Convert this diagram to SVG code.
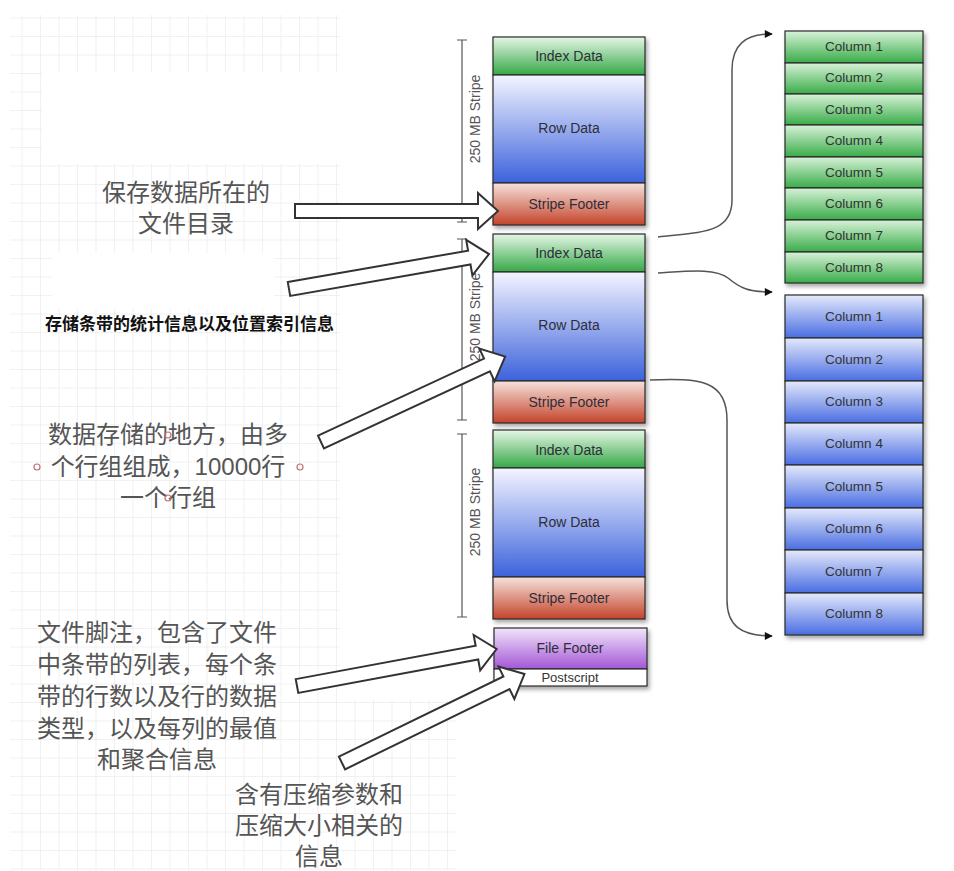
<svg xmlns="http://www.w3.org/2000/svg" width="954" height="871" viewBox="0 0 954 871">
<defs>
<pattern id="grid" width="18.5" height="18.5" patternUnits="userSpaceOnUse" x="4" y="0">
<path d="M18.5 0V18.5M0 18.5H18.5" fill="none" stroke="#e4e4e4" stroke-width="1"/>
</pattern>
<linearGradient id="gGreen" x1="0" y1="0" x2="0" y2="1"><stop offset="0" stop-color="#e6f6e6"/><stop offset="1" stop-color="#34a846"/></linearGradient>
<linearGradient id="gBlue" x1="0" y1="0" x2="0" y2="1"><stop offset="0" stop-color="#f4f5ff"/><stop offset="1" stop-color="#3c62dc"/></linearGradient>
<linearGradient id="gRed" x1="0" y1="0" x2="0" y2="1"><stop offset="0" stop-color="#f6e2dc"/><stop offset="1" stop-color="#c4432a"/></linearGradient>
<linearGradient id="gPurple" x1="0" y1="0" x2="0" y2="1"><stop offset="0" stop-color="#f1e4fa"/><stop offset="1" stop-color="#a356d6"/></linearGradient>
<linearGradient id="cGreen" x1="0" y1="0" x2="0" y2="1"><stop offset="0" stop-color="#d8f2d8"/><stop offset="1" stop-color="#38ac48"/></linearGradient>
<linearGradient id="cBlue" x1="0" y1="0" x2="0" y2="1"><stop offset="0" stop-color="#e4e9fb"/><stop offset="1" stop-color="#4a6ee2"/></linearGradient>
<filter id="sh" x="-10%" y="-10%" width="130%" height="130%"><feDropShadow dx="2" dy="3" stdDeviation="2" flood-color="#000" flood-opacity="0.35"/></filter>
<marker id="ah" viewBox="0 0 10 10" refX="9" refY="5" markerWidth="10" markerHeight="8" markerUnits="userSpaceOnUse" orient="auto"><path d="M0 0L10 5L0 10Z" fill="#111"/></marker>
<path id="blk" d="M0 -7H183V-18L203 0L183 18V7H0Z"/>
</defs>
<style>
.lbl{font-family:"Liberation Sans",Arial,sans-serif;font-size:14px;fill:#2e2e3a;text-anchor:middle}
.col{font-family:"Liberation Sans",Arial,sans-serif;font-size:13.5px;fill:#333;text-anchor:middle}
.ps{font-family:"Liberation Sans",Arial,sans-serif;font-size:13px;fill:#333;text-anchor:middle}
.dim{font-family:"Liberation Sans",Arial,sans-serif;font-size:14px;fill:#555;text-anchor:middle}
.bx{stroke:#2a2a2a;stroke-width:1.2}
.cn{font-family:"Liberation Sans","Noto Sans CJK SC",sans-serif;font-size:24px;fill:#555;text-anchor:middle}
.cnb{font-family:"Liberation Sans","Noto Sans CJK SC",sans-serif;font-size:17px;font-weight:bold;fill:#111}
.barrow{fill:#fff;stroke:#333;stroke-width:2;stroke-linejoin:miter}
.conn{fill:none;stroke:#555;stroke-width:1.5}
.dl{stroke:#555;stroke-width:1.2;fill:none}
.mk{fill:none;stroke:#c0707a;stroke-width:1.2}
</style>
<rect width="954" height="871" fill="#fff"/>
<g id="background">
<rect x="10" y="15" width="330" height="855" fill="url(#grid)"/>
<rect x="340" y="700" width="116" height="170" fill="url(#grid)"/>
<rect x="42" y="72" width="300" height="92" fill="#fff"/>
<rect x="52" y="253" width="222" height="56" fill="#fff"/>
</g>
<g id="dimensions">
<path class="dl" d="M462 40V222M457 40H467M457 222H467"/>
<text class="dim" transform="translate(480,119) rotate(-90)">250 MB Stripe</text>
<path class="dl" d="M462 239V420M457 239H467M457 420H467"/>
<text class="dim" transform="translate(480,317) rotate(-90)">250 MB Stripe</text>
<path class="dl" d="M462 434V617M457 434H467M457 617H467"/>
<text class="dim" transform="translate(480,512) rotate(-90)">250 MB Stripe</text>
</g>
<g id="stripe1" filter="url(#sh)">
<rect class="bx" x="493" y="37" width="152" height="38" fill="url(#gGreen)"/>
<rect class="bx" x="493" y="75" width="152" height="108" fill="url(#gBlue)"/>
<rect class="bx" x="493" y="183" width="152" height="42" fill="url(#gRed)"/>
</g>
<g id="stripe1-text">
<text class="lbl" x="569" y="61">Index Data</text>
<text class="lbl" x="569" y="133">Row Data</text>
<text class="lbl" x="569" y="209">Stripe Footer</text>
</g>
<g id="stripe2" filter="url(#sh)">
<rect class="bx" x="493" y="234" width="152" height="38" fill="url(#gGreen)"/>
<rect class="bx" x="493" y="272" width="152" height="109" fill="url(#gBlue)"/>
<rect class="bx" x="493" y="381" width="152" height="42" fill="url(#gRed)"/>
</g>
<g id="stripe2-text">
<text class="lbl" x="569" y="258">Index Data</text>
<text class="lbl" x="569" y="330">Row Data</text>
<text class="lbl" x="569" y="407">Stripe Footer</text>
</g>
<g id="stripe3" filter="url(#sh)">
<rect class="bx" x="493" y="430" width="152" height="38" fill="url(#gGreen)"/>
<rect class="bx" x="493" y="468" width="152" height="109" fill="url(#gBlue)"/>
<rect class="bx" x="493" y="577" width="152" height="42" fill="url(#gRed)"/>
</g>
<g id="stripe3-text">
<text class="lbl" x="569" y="455">Index Data</text>
<text class="lbl" x="569" y="527">Row Data</text>
<text class="lbl" x="569" y="603">Stripe Footer</text>
</g>
<g id="file-footer" filter="url(#sh)">
<rect class="bx" x="494" y="628" width="153" height="41" fill="url(#gPurple)"/>
<rect class="bx" x="494" y="669" width="153" height="17" fill="#fff"/>
</g>
<g id="file-footer-text">
<text class="lbl" x="570" y="653">File Footer</text>
<text class="ps" x="570" y="682">Postscript</text>
</g>
<g id="columns-green">
<g filter="url(#sh)">
<rect class="bx" x="785" y="31" width="138" height="32" fill="url(#cGreen)"/>
<rect class="bx" x="785" y="63" width="138" height="31" fill="url(#cGreen)"/>
<rect class="bx" x="785" y="94" width="138" height="31" fill="url(#cGreen)"/>
<rect class="bx" x="785" y="125" width="138" height="32" fill="url(#cGreen)"/>
<rect class="bx" x="785" y="157" width="138" height="31" fill="url(#cGreen)"/>
<rect class="bx" x="785" y="188" width="138" height="32" fill="url(#cGreen)"/>
<rect class="bx" x="785" y="220" width="138" height="32" fill="url(#cGreen)"/>
<rect class="bx" x="785" y="252" width="138" height="31" fill="url(#cGreen)"/>
</g>
<text class="col" x="854" y="51">Column 1</text>
<text class="col" x="854" y="82">Column 2</text>
<text class="col" x="854" y="114">Column 3</text>
<text class="col" x="854" y="145">Column 4</text>
<text class="col" x="854" y="177">Column 5</text>
<text class="col" x="854" y="208">Column 6</text>
<text class="col" x="854" y="240">Column 7</text>
<text class="col" x="854" y="272">Column 8</text>
</g>
<g id="columns-blue">
<g filter="url(#sh)">
<rect class="bx" x="785" y="295" width="138" height="43" fill="url(#cBlue)"/>
<rect class="bx" x="785" y="338" width="138" height="43" fill="url(#cBlue)"/>
<rect class="bx" x="785" y="381" width="138" height="42" fill="url(#cBlue)"/>
<rect class="bx" x="785" y="423" width="138" height="42" fill="url(#cBlue)"/>
<rect class="bx" x="785" y="465" width="138" height="43" fill="url(#cBlue)"/>
<rect class="bx" x="785" y="508" width="138" height="42" fill="url(#cBlue)"/>
<rect class="bx" x="785" y="550" width="138" height="43" fill="url(#cBlue)"/>
<rect class="bx" x="785" y="593" width="138" height="42" fill="url(#cBlue)"/>
</g>
<text class="col" x="854" y="321">Column 1</text>
<text class="col" x="854" y="364">Column 2</text>
<text class="col" x="854" y="406">Column 3</text>
<text class="col" x="854" y="448">Column 4</text>
<text class="col" x="854" y="491">Column 5</text>
<text class="col" x="854" y="533">Column 6</text>
<text class="col" x="854" y="576">Column 7</text>
<text class="col" x="854" y="618">Column 8</text>
</g>
<g id="connectors">
<path class="conn" marker-end="url(#ah)" d="M658 237C700 232 732 234 732 200V70C732 45 745 34 772 34"/>
<path class="conn" marker-end="url(#ah)" d="M658 273C690 271 715 268 728 278C740 288 748 292 772 292"/>
<path class="conn" marker-end="url(#ah)" d="M650 380C700 378 727 380 727 420V600C727 625 740 636 772 636"/>
</g>
<g id="block-arrows">
<use href="#blk" class="barrow" transform="translate(295,211) rotate(0)"/>
<use href="#blk" class="barrow" transform="translate(289,289) rotate(-9.9)"/>
<use href="#blk" class="barrow" transform="translate(321,442) rotate(-24.9)"/>
<use href="#blk" class="barrow" transform="translate(297,686) rotate(-10.5)"/>
<use href="#blk" class="barrow" transform="translate(342,763) rotate(-26)"/>
</g>
<g id="note-dir">
<text class="cn" x="186" y="201">保存数据所在的</text>
<text class="cn" x="186" y="232">文件目录</text>
</g>
<g id="note-index">
<text class="cnb" x="45" y="330">存储条带的统计信息以及位置索引信息</text>
</g>
<g id="note-row">
<text class="cn" x="168" y="443">数据存储的地方，由多</text>
<text class="cn" x="168" y="475">个行组组成，10000行</text>
<text class="cn" x="168" y="506">一个行组</text>
<circle class="mk" cx="168" cy="435" r="3"/>
<circle class="mk" cx="37" cy="467" r="3"/>
<circle class="mk" cx="300" cy="467" r="3"/>
<circle class="mk" cx="168" cy="498" r="3"/>
</g>
<g id="note-footer">
<text class="cn" x="157" y="641">文件脚注，包含了文件</text>
<text class="cn" x="157" y="673">中条带的列表，每个条</text>
<text class="cn" x="157" y="705">带的行数以及行的数据</text>
<text class="cn" x="157" y="737">类型，以及每列的最值</text>
<text class="cn" x="157" y="768">和聚合信息</text>
</g>
<g id="note-postscript">
<text class="cn" x="319" y="803">含有压缩参数和</text>
<text class="cn" x="319" y="834">压缩大小相关的</text>
<text class="cn" x="319" y="865">信息</text>
</g>
</svg>
